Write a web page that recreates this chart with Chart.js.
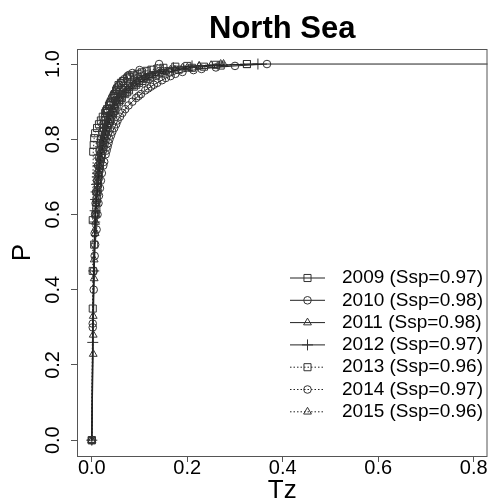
<!DOCTYPE html>
<html>
<head>
<meta charset="utf-8">
<script src="https://cdn.jsdelivr.net/npm/chart.js@4.4.1/dist/chart.umd.min.js"></script>
<style>
  html, body { margin: 0; padding: 0; background: #fff; }
</style>
</head>
<body>
<canvas id="chart" width="494" height="504"></canvas>
<script>
const xTicks = [0, 0.2, 0.4, 0.6, 0.8];
const yTicks = [0, 0.2, 0.4, 0.6, 0.8, 1.0];
const years = ["2009", "2010", "2011", "2012", "2013", "2014", "2015"];
const ssp = [0.97, 0.98, 0.98, 0.97, 0.96, 0.97, 0.96];

const tz2009 = [0, 0.002, 0.005, 0.008, 0.0095, 0.0105, 0.012, 0.013, 0.0145, 0.016, 0.017, 0.019, 0.020, 0.023, 0.024, 0.026, 0.028, 0.030, 0.033, 0.035, 0.038, 0.041, 0.044, 0.046, 0.048, 0.052, 0.057, 0.060, 0.063, 0.070, 0.074, 0.078, 0.088, 0.093, 0.099, 0.106, 0.114, 0.122, 0.134, 0.146, 0.163, 0.182, 0.21, 0.235, 0.27, 0.325, 0.95];
const p2009 = [0, 0.35, 0.52, 0.6, 0.62, 0.64, 0.66, 0.68, 0.7, 0.72, 0.73, 0.75, 0.76, 0.78, 0.79, 0.8, 0.81, 0.82, 0.83, 0.84, 0.85, 0.86, 0.87, 0.875, 0.88, 0.89, 0.9, 0.905, 0.91, 0.92, 0.925, 0.93, 0.94, 0.945, 0.95, 0.955, 0.96, 0.965, 0.97, 0.975, 0.98, 0.985, 0.99, 0.993, 0.996, 1.0, 1.0];

const tz2010 = [0, 0.002, 0.004, 0.006, 0.007, 0.010, 0.012, 0.014, 0.015, 0.017, 0.019, 0.021, 0.024, 0.026, 0.029, 0.031, 0.033, 0.035, 0.037, 0.040, 0.043, 0.047, 0.051, 0.054, 0.059, 0.064, 0.070, 0.077, 0.085, 0.093, 0.098, 0.103, 0.112, 0.118, 0.124, 0.130, 0.137, 0.147, 0.155, 0.165, 0.175, 0.19, 0.213, 0.23, 0.26, 0.3, 0.367];
const p2010 = [0, 0.31, 0.4, 0.49, 0.52, 0.56, 0.6, 0.63, 0.65, 0.67, 0.69, 0.71, 0.73, 0.74, 0.76, 0.77, 0.78, 0.79, 0.8, 0.81, 0.82, 0.83, 0.84, 0.85, 0.86, 0.87, 0.88, 0.89, 0.9, 0.91, 0.915, 0.92, 0.93, 0.935, 0.94, 0.945, 0.95, 0.957, 0.963, 0.968, 0.974, 0.979, 0.984, 0.987, 0.991, 0.995, 1.0];

const tz2011 = [0, 0.003, 0.003, 0.005, 0.007, 0.008, 0.009, 0.011, 0.012, 0.013, 0.015, 0.016, 0.017, 0.019, 0.021, 0.023, 0.025, 0.027, 0.030, 0.032, 0.034, 0.037, 0.040, 0.043, 0.047, 0.052, 0.057, 0.064, 0.071, 0.075, 0.080, 0.090, 0.096, 0.104, 0.112, 0.122, 0.134, 0.148, 0.165, 0.19, 0.225, 0.276];
const p2011 = [0, 0.229, 0.28, 0.43, 0.55, 0.6, 0.63, 0.66, 0.68, 0.7, 0.72, 0.74, 0.75, 0.77, 0.78, 0.8, 0.81, 0.82, 0.83, 0.84, 0.85, 0.86, 0.87, 0.88, 0.89, 0.9, 0.91, 0.92, 0.93, 0.935, 0.94, 0.95, 0.955, 0.96, 0.965, 0.97, 0.975, 0.98, 0.985, 0.99, 0.995, 1.0];

const tz2012 = [0, 0.002, 0.004, 0.006, 0.007, 0.008, 0.009, 0.010, 0.0115, 0.012, 0.0135, 0.015, 0.016, 0.018, 0.019, 0.021, 0.022, 0.024, 0.026, 0.028, 0.031, 0.033, 0.036, 0.039, 0.043, 0.047, 0.052, 0.058, 0.065, 0.073, 0.082, 0.094, 0.101, 0.11, 0.12, 0.133, 0.15, 0.171, 0.21, 0.348];
const p2012 = [0, 0.26, 0.45, 0.58, 0.61, 0.64, 0.66, 0.68, 0.7, 0.71, 0.73, 0.75, 0.76, 0.78, 0.79, 0.8, 0.81, 0.82, 0.83, 0.84, 0.85, 0.86, 0.87, 0.88, 0.89, 0.9, 0.91, 0.92, 0.93, 0.94, 0.95, 0.96, 0.965, 0.97, 0.975, 0.98, 0.985, 0.99, 0.995, 1.0];

const tz2013 = [0, 0.002, 0.002, 0.003, 0.004, 0.005, 0.007, 0.011, 0.015, 0.019, 0.023, 0.028, 0.030, 0.032, 0.036, 0.038, 0.040, 0.044, 0.046, 0.048, 0.051, 0.053, 0.056, 0.061, 0.066, 0.074, 0.080, 0.088, 0.096, 0.105, 0.115, 0.125, 0.138, 0.15, 0.175, 0.2, 0.26, 0.325];
const p2013 = [0, 0.45, 0.585, 0.767, 0.785, 0.803, 0.816, 0.83, 0.84, 0.85, 0.86, 0.87, 0.875, 0.88, 0.89, 0.895, 0.9, 0.91, 0.915, 0.92, 0.93, 0.935, 0.944, 0.95, 0.955, 0.962, 0.966, 0.97, 0.974, 0.978, 0.982, 0.985, 0.988, 0.99, 0.993, 0.995, 0.998, 1.0];

const tz2014 = [0, 0.002, 0.004, 0.006, 0.007, 0.008, 0.009, 0.011, 0.012, 0.013, 0.015, 0.016, 0.018, 0.019, 0.022, 0.023, 0.025, 0.026, 0.028, 0.031, 0.033, 0.036, 0.039, 0.042, 0.046, 0.048, 0.051, 0.055, 0.057, 0.061, 0.064, 0.068, 0.075, 0.078, 0.085, 0.1, 0.141];
const p2014 = [0, 0.3, 0.45, 0.55, 0.6, 0.63, 0.66, 0.69, 0.71, 0.73, 0.75, 0.77, 0.79, 0.8, 0.82, 0.83, 0.84, 0.85, 0.86, 0.87, 0.88, 0.89, 0.9, 0.91, 0.92, 0.923, 0.93, 0.94, 0.944, 0.95, 0.955, 0.96, 0.968, 0.971, 0.976, 0.984, 1.0];

const tz2015 = [0, 0.003, 0.005, 0.008, 0.009, 0.010, 0.012, 0.013, 0.0145, 0.016, 0.018, 0.020, 0.022, 0.024, 0.026, 0.028, 0.030, 0.033, 0.036, 0.039, 0.042, 0.045, 0.049, 0.054, 0.06, 0.067, 0.074, 0.084, 0.089, 0.095, 0.109, 0.117, 0.128, 0.14, 0.155, 0.174, 0.2, 0.225, 0.25, 0.27];
const p2015 = [0, 0.33, 0.48, 0.58, 0.61, 0.64, 0.67, 0.69, 0.71, 0.73, 0.75, 0.77, 0.79, 0.8, 0.81, 0.82, 0.83, 0.84, 0.85, 0.86, 0.87, 0.88, 0.89, 0.9, 0.91, 0.92, 0.93, 0.94, 0.945, 0.95, 0.96, 0.965, 0.97, 0.975, 0.98, 0.985, 0.99, 0.994, 0.997, 1.0];

const series = [
  [tz2009, p2009], [tz2010, p2010], [tz2011, p2011], [tz2012, p2012],
  [tz2013, p2013], [tz2014, p2014], [tz2015, p2015]
];

// R-ish marker set: squares, circles, triangles, plus; last three years dotted
const markers = ["rect", "circle", "triangle", "cross", "rect", "circle", "triangle"];
const markerRadius = { rect: 5, circle: 3.8, triangle: 4.5, cross: 5.5 };
const dotted = [false, false, false, false, true, true, true];

const FONT = "'Liberation Sans', Arial, Helvetica, sans-serif";
const INK = "#222";

const datasets = series.map(([xs, ys], i) => ({
  label: `${years[i]} (Ssp=${ssp[i].toFixed(2)})`,
  data: xs.map((x, k) => ({ x: x, y: ys[k] })),
  borderColor: INK,
  borderWidth: 1,
  borderDash: dotted[i] ? [1.5, 2] : [],
  pointStyle: markers[i],
  pointRadius: markerRadius[markers[i]],
  pointBorderColor: "#333",
  pointBackgroundColor: "rgba(0,0,0,0)",
  pointBorderWidth: 1,
  tension: 0,
  fill: false
}));

const frame = {
  id: "frame",
  afterDraw(chart) {
    const { ctx, chartArea: a } = chart;
    ctx.save();

    // box
    ctx.strokeStyle = "#555";
    ctx.lineWidth = 1;
    ctx.strokeRect(a.left + 0.5, a.top + 0.5, a.right - a.left - 1, a.bottom - a.top);

    // title
    ctx.fillStyle = "#000";
    ctx.font = `bold 31px ${FONT}`;
    ctx.textAlign = "center";
    ctx.textBaseline = "alphabetic";
    ctx.fillText("North Sea", (a.left + a.right) / 2, 38);

    // rotated y tick labels, as R draws them
    const ys = chart.scales.y;
    ctx.font = `20px ${FONT}`;
    ctx.textBaseline = "middle";
    ys.ticks.forEach(t => {
      ctx.save();
      ctx.translate(52, ys.getPixelForValue(t.value));
      ctx.rotate(-Math.PI / 2);
      ctx.fillText(t.value.toFixed(1), 0, 1);
      ctx.restore();
    });

    // legend
    const drawPt = Chart.helpers && Chart.helpers.drawPoint;
    ctx.font = `19px ${FONT}`;
    ctx.textAlign = "left";
    chart.data.datasets.forEach((ds, i) => {
      const y = 278 + i * 22.3;
      ctx.strokeStyle = INK;
      ctx.setLineDash(dotted[i] ? [1.5, 2] : []);
      ctx.beginPath();
      ctx.moveTo(290, y);
      ctx.lineTo(325, y);
      ctx.stroke();
      ctx.setLineDash([]);
      ctx.strokeStyle = "#333";
      ctx.fillStyle = "rgba(0,0,0,0)";
      if (drawPt) {
        drawPt(ctx, { pointStyle: ds.pointStyle, radius: ds.pointRadius, rotation: 0, borderWidth: 1 }, 307.5, y);
      }
      ctx.fillStyle = "#000";
      ctx.fillText(ds.label, 342, y);
    });

    ctx.restore();
  }
};

new Chart(document.getElementById("chart"), {
  type: "scatter",
  data: { datasets: datasets },
  options: {
    responsive: false,
    animation: false,
    showLine: true,
    layout: { padding: { top: 49, right: 1, left: 0, bottom: 0 } },
    plugins: {
      legend: { display: false },
      tooltip: { enabled: false },
      title: { display: false }
    },
    scales: {
      x: {
        type: "linear",
        min: -0.031,
        max: 0.829,
        afterBuildTicks: s => { s.ticks = xTicks.map(v => ({ value: v })); },
        afterFit: s => { s.height = 48; },
        ticks: {
          color: "#000",
          font: { family: FONT, size: 20, lineHeight: 1.0 },
          padding: -4,
          maxRotation: 0,
          callback: v => v.toFixed(1)
        },
        grid: { drawOnChartArea: false, drawTicks: true, tickLength: 6, color: "#555" },
        border: { display: false },
        title: {
          display: true,
          text: "Tz",
          color: "#000",
          font: { family: FONT, size: 26, lineHeight: 1.0 },
          padding: { top: 0, bottom: 0 }
        }
      },
      y: {
        type: "linear",
        min: -0.042,
        max: 1.04,
        afterBuildTicks: s => { s.ticks = yTicks.map(v => ({ value: v })); },
        afterFit: s => { s.width = 77; },
        ticks: { display: false },
        grid: { drawOnChartArea: false, drawTicks: true, tickLength: 6, color: "#555" },
        border: { display: false },
        title: {
          display: true,
          text: "P",
          color: "#000",
          font: { family: FONT, size: 26, lineHeight: 1.0 },
          padding: { top: 10, bottom: 0 }
        }
      }
    }
  },
  plugins: [frame]
});
</script>
</body>
</html>
